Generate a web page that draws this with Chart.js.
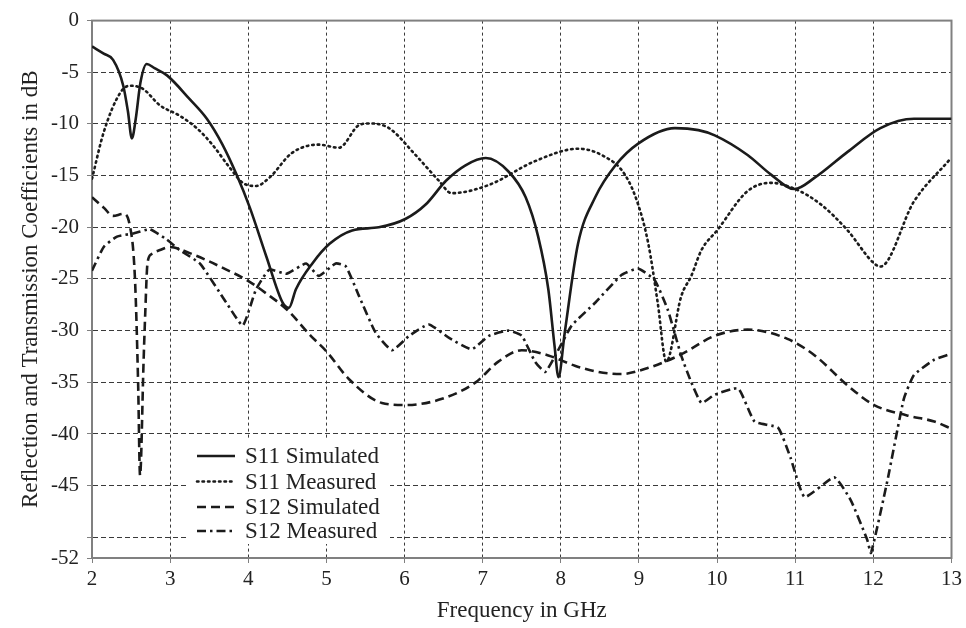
<!DOCTYPE html>
<html>
<head>
<meta charset="utf-8">
<script src="https://cdn.jsdelivr.net/npm/chart.js@4/dist/chart.umd.min.js"></script>
<style>
  html, body { margin: 0; padding: 0; background: #fff; }
  canvas { display: block; }
</style>
</head>
<body>
<canvas id="c" width="966" height="628"></canvas>
<script>
// ---- Data ----
const seriesNames = ["S11 Simulated", "S11 Measured", "S12 Simulated", "S12 Measured"];

const s11SimFreq = [2.0, 2.15, 2.27, 2.4, 2.46, 2.51, 2.56, 2.62, 2.7, 2.8, 2.96, 3.25, 3.47, 3.67, 3.85, 4.02, 4.23, 4.44, 4.52, 4.61, 4.82, 5.04, 5.33, 5.67, 6.01, 6.27, 6.53, 6.78, 7.04, 7.33, 7.55, 7.71, 7.84, 7.92, 7.97, 8.05, 8.22, 8.44, 8.7, 8.99, 9.46, 9.76, 9.97, 10.39, 10.69, 10.99, 11.25, 11.67, 12.09, 12.52, 13.0];
const s11SimDb   = [-2.5, -3.2, -3.8, -6.3, -8.8, -11.4, -9.5, -6.0, -4.2, -4.6, -5.3, -7.6, -9.5, -12, -14.9, -18.1, -22.8, -27.3, -27.8, -26, -23.5, -21.6, -20.3, -20, -19.2, -17.8, -15.5, -14, -13.3, -14.6, -17.1, -20.9, -26, -31.5, -34.5, -30.2, -21.6, -17.1, -14, -11.9, -10.4, -10.6, -11.1, -13, -14.9, -16.3, -15.2, -12.7, -10.4, -9.5, -9.5];

const s11MeasFreq = [2.0, 2.15, 2.36, 2.48, 2.65, 2.87, 3.12, 3.34, 3.54, 3.76, 3.93, 4.1, 4.27, 4.56, 4.9, 5.16, 5.42, 5.55, 5.8, 6.14, 6.44, 6.6, 7.08, 7.67, 8.22, 8.52, 8.82, 8.99, 9.12, 9.24, 9.35, 9.54, 9.67, 9.8, 10.0, 10.39, 10.69, 11.0, 11.33, 11.67, 12.01, 12.09, 12.52, 12.97];
const s11MeasDb   = [-15.3, -10.8, -7, -6.3, -6.6, -8.2, -9.2, -10.4, -12, -14.2, -15.7, -16, -15.2, -12.8, -12, -12.3, -10.1, -9.95, -10.4, -13, -15.5, -16.7, -15.9, -13.6, -12.4, -13, -14.9, -17.8, -21.6, -27.3, -33, -26.7, -24.7, -22.2, -20.3, -16.5, -15.7, -16.3, -17.8, -20.3, -23.5, -23.8, -17.5, -13.5];

const s12SimFreq = [2.0, 2.15, 2.27, 2.4, 2.48, 2.55, 2.59, 2.615, 2.66, 2.68, 2.71, 2.76, 2.87, 3.0, 3.25, 3.47, 3.72, 3.98, 4.23, 4.5, 4.8, 5.0, 5.29, 5.71, 6.01, 6.48, 6.91, 7.2, 7.5, 7.84, 8.18, 8.48, 8.77, 9.12, 9.54, 9.97, 10.39, 10.9, 11.25, 11.67, 12.01, 12.43, 12.78, 13.0];
const s12SimDb   = [-17.1, -18.1, -18.9, -18.7, -19.7, -25, -35, -44, -33, -28.6, -23.5, -22.6, -22.2, -21.9, -22.5, -23.2, -24.1, -25.1, -26.4, -28, -30.5, -32, -34.7, -37, -37.2, -36.6, -35, -33, -31.9, -32.4, -33.4, -34, -34.2, -33.6, -32.3, -30.5, -29.9, -30.8, -32.4, -35.3, -37.2, -38.2, -38.8, -39.5];

const s12MeasFreq = [2.0, 2.15, 2.32, 2.53, 2.74, 2.96, 3.12, 3.38, 3.72, 3.93, 4.1, 4.27, 4.49, 4.74, 4.9, 5.12, 5.25, 5.42, 5.63, 5.84, 6.06, 6.31, 6.57, 6.86, 7.08, 7.33, 7.5, 7.67, 7.8, 7.93, 8.14, 8.44, 8.78, 8.99, 9.2, 9.37, 9.54, 9.67, 9.8, 9.97, 10.27, 10.48, 10.78, 10.94, 11.12, 11.5, 11.71, 11.92, 11.97, 12.18, 12.39, 12.52, 12.78, 12.97];
const s12MeasDb   = [-24.2, -21.9, -20.9, -20.6, -20.2, -21.2, -22.2, -23.5, -27.3, -29.5, -26, -24.1, -24.5, -23.5, -24.7, -23.5, -23.8, -26.7, -30.2, -31.9, -30.5, -29.4, -30.7, -31.8, -30.5, -30, -30.5, -33, -34, -32.4, -29.5, -27.3, -24.6, -24, -25.1, -28, -32.4, -35, -37, -36.2, -35.6, -38.8, -39.4, -42.3, -46.1, -44.2, -46.4, -50.2, -51.5, -44.5, -36.6, -34.3, -32.8, -32.3];

const xTicks = [2, 3, 4, 5, 6, 7, 8, 9, 10, 11, 12, 13];
const yTicks = [-52, -50, -45, -40, -35, -30, -25, -20, -15, -10, -5, 0];
const yTickLabels = ["-52", "", "-45", "-40", "-35", "-30", "-25", "-20", "-15", "-10", "-5", "0"];
const xTitle = "Frequency in GHz";
const yTitle = "Reflection and Transmission Coefficients in dB";

// ---- Build ----
const FONT = "'Liberation Serif', 'Times New Roman', serif";
const INK = "#1b1b1b";
function pts(fx, fy) { return fx.map((f, i) => ({ x: f, y: fy[i] })); }

const styles = [
  { dash: [], width: 2.6, smooth: 'monotone' },
  { dash: [1.5, 4], width: 2.6, smooth: 'monotone' },
  { dash: [9, 5], width: 2.6, smooth: 'monotone' },
  { dash: [9, 4, 2.5, 4], width: 2.6, smooth: 'lin' },
];
const seriesData = [pts(s11SimFreq, s11SimDb), pts(s11MeasFreq, s11MeasDb), pts(s12SimFreq, s12SimDb), pts(s12MeasFreq, s12MeasDb)];

const datasets = seriesNames.map((name, i) => {
  const s = styles[i];
  const d = {
    label: name,
    data: seriesData[i],
    borderColor: INK,
    borderWidth: s.width,
    borderDash: s.dash,
    borderCapStyle: i === 1 ? 'round' : 'butt',
    pointRadius: 0,
    fill: false,
  };
  if (s.smooth === 'monotone') d.cubicInterpolationMode = 'monotone';
  else d.tension = 0.15;
  return d;
});

const frame = {
  id: 'frame',
  beforeDatasetsDraw(chart) {
    const { ctx, chartArea: a } = chart;
    ctx.save();
    ctx.strokeStyle = '#808080';
    ctx.lineWidth = 2;
    ctx.strokeRect(a.left, a.top, a.right - a.left, a.bottom - a.top);
    ctx.restore();
  },
  afterDatasetsDraw(chart) {
    const { ctx } = chart;
    ctx.save();
    ctx.fillStyle = '#fff';
    ctx.fillRect(188, 440, 202, 104);
    const rows = [456, 481.5, 507, 531];
    ctx.font = "23px " + FONT;
    ctx.textBaseline = 'middle';
    ctx.textAlign = 'left';
    chart.data.datasets.forEach((ds, i) => {
      const y = rows[i];
      ctx.beginPath();
      ctx.setLineDash(ds.borderDash);
      ctx.lineCap = ds.borderCapStyle;
      ctx.lineWidth = ds.borderWidth;
      ctx.strokeStyle = INK;
      ctx.moveTo(197, y);
      ctx.lineTo(235, y);
      ctx.stroke();
      ctx.setLineDash([]);
      ctx.fillStyle = '#222';
      ctx.fillText(ds.label, 245, y + 1);
    });
    ctx.restore();
  }
};

new Chart(document.getElementById('c'), {
  type: 'line',
  data: { datasets },
  plugins: [frame],
  options: {
    responsive: false,
    animation: false,
    devicePixelRatio: 1,
    layout: { padding: { top: 14, right: 12, left: 0, bottom: 0 } },
    plugins: { legend: { display: false }, tooltip: { enabled: false } },
    scales: {
      x: {
        type: 'linear', min: 2, max: 13,
        afterBuildTicks: (s) => { s.ticks = xTicks.map(v => ({ value: v })); },
        afterFit: (s) => { s.height = 70; },
        ticks: { color: '#222', font: { family: FONT, size: 21 }, padding: 4, maxRotation: 0, autoSkip: false },
        grid: { color: '#3a3a3a', lineWidth: 1, tickLength: 5, tickColor: '#808080' },
        border: { display: true, color: '#808080', width: 2, dash: [3, 3] },
        title: { display: true, text: xTitle, color: '#222', font: { family: FONT, size: 23 }, padding: { top: 0, bottom: 3 } }
      },
      y: {
        type: 'linear', min: -52, max: 0,
        afterBuildTicks: (s) => { s.ticks = yTicks.map(v => ({ value: v })); },
        afterFit: (s) => { s.width = 92; },
        ticks: {
          color: '#222', font: { family: FONT, size: 21 }, padding: 8, autoSkip: false,
          callback: (v) => { const k = yTicks.indexOf(v); return k >= 0 ? yTickLabels[k] : ''; }
        },
        grid: { color: '#3a3a3a', lineWidth: 1, tickLength: 5, tickColor: '#808080' },
        border: { display: true, color: '#808080', width: 2, dash: [5, 3] },
        title: { display: true, text: yTitle, color: '#222', font: { family: FONT, size: 23 }, padding: { top: 17, bottom: 0 } }
      }
    }
  }
});
</script>
</body>
</html>
